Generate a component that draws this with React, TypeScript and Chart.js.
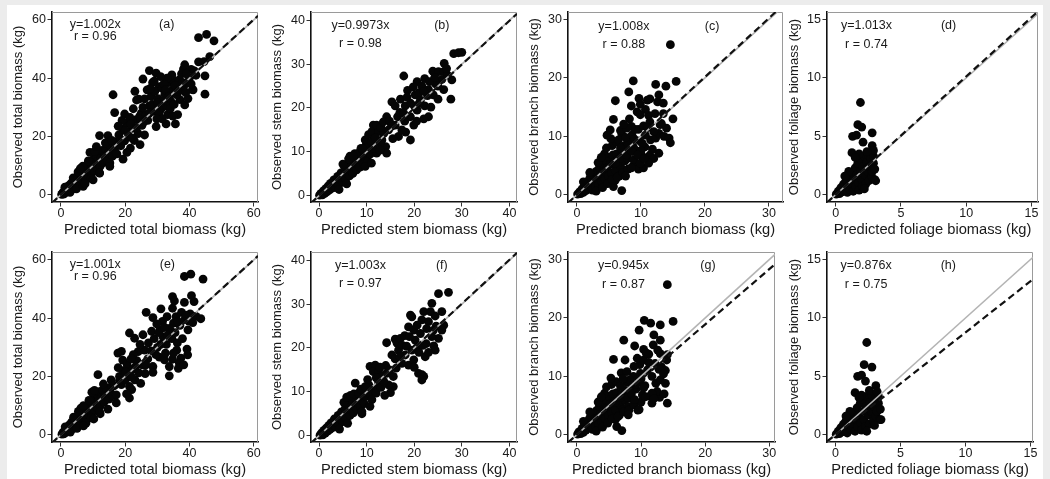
import React, { useEffect, useRef } from "react";
import { Chart, registerables } from "chart.js";

Chart.register(...registerables);

const FONT = "'Liberation Sans', Arial, Helvetica, sans-serif";
const INK = "#1a1a1a";

// ---------- tick labels ----------
const totalTicks = [0, 20, 40, 60];
const stemTicks = [0, 10, 20, 30, 40];
const branchTicks = [0, 10, 20, 30];
const foliageTicks = [0, 5, 10, 15];

// ---------- annotations ----------
const panelTags = ["(a)", "(b)", "(c)", "(d)", "(e)", "(f)", "(g)", "(h)"];
const slopes = [1.002, 0.9973, 1.008, 1.013, 1.001, 1.003, 0.945, 0.876];
const slopeLabels = ["1.002", "0.9973", "1.008", "1.013", "1.001", "1.003", "0.945", "0.876"];
const rValues = ["0.96", "0.98", "0.88", "0.74", "0.96", "0.97", "0.87", "0.75"];
const xTitles = [
  "Predicted total biomass (kg)",
  "Predicted stem biomass (kg)",
  "Predicted branch biomass (kg)",
  "Predicted foliage biomass (kg)",
];
const yTitles = [
  "Observed total biomass (kg)",
  "Observed stem biomass (kg)",
  "Observed branch biomass (kg)",
  "Observed foliage biomass (kg)",
];

// ---------- data: [predicted, observed] ----------
const totalA: [number, number][] = [
  [0.2,0.1],[0.5,0.6],[0.8,0.2],[1.0,1.2],[1.3,0.6],[1.5,1.8],[1.8,1.0],[2.0,2.5],[2.2,1.4],[2.5,3.2],[2.7,2.0],[3.0,2.6],[3.2,4.0],[3.4,1.8],[3.7,3.3],[4.0,4.8],[4.2,2.6],[4.5,4.0],[4.8,5.8],[5.0,3.3],[5.3,4.8],[5.6,6.8],[5.9,4.0],[6.2,5.6],[6.5,7.6],[6.8,4.8],[7.1,6.6],[7.4,8.8],[7.7,5.6],[8.0,7.6],[8.3,9.8],[8.6,6.4],[8.9,8.6],[9.2,11.0],[9.5,7.2],[9.8,9.6],[10.1,12.2],[10.4,8.2],[10.7,10.6],[11.0,13.4],[11.3,9.0],[11.6,11.6],[11.9,14.6],[12.2,9.8],[12.5,12.6],[12.8,15.2],[13.2,11.0],[13.6,13.6],[14.0,15.6],[14.4,11.8],[14.8,14.2],[15.2,10.9],[15.5,16.6],[16.0,13.2],[16.5,15.4],[17.0,18.2],[17.4,14.0],
  [3.8,5.8],[5.3,7.8],[6.8,9.8],[8.5,11.6],[2.8,0.8],[4.8,2.0],[6.9,2.9],[9.3,5.6],[10.0,5.1],[12.0,7.4],[1.2,2.6],[15.2,9.7],
  [12.0,20.3],[14.6,20.3],[9.0,14.5],[10.5,14.8],[6.0,9.0],[7.5,3.8],[12.0,7.5],[13.8,17.8],[11.0,16.5],[15.8,18.6],[17.0,16.5],
  [16.2,34.3],[16.7,28.2],[19.8,27.7],[19.3,12.2],[18.0,20.5],[18.6,16.8],[19.2,22.5],[19.8,18.5],[20.4,24.5],[21.0,20.2],[21.6,16.0],[22.2,22.8],[22.8,18.6],[23.4,25.8],[24.0,21.0],[24.6,17.2],[25.2,23.8],[20.5,14.5],[21.5,26.5],[22.5,29.5],[23.5,32.5],[24.2,32.8],[25.0,28.0],[19.0,25.5],[17.8,23.5],[26.0,20.5],[24.5,27.0],[23.0,35.5],[24.8,26.0],[21.8,24.2],[20.0,22.0],[18.5,19.0],[23.5,23.0],[22.0,19.5],
  [25.5,39.7],[27.5,42.6],[29.6,41.7],[26.0,32.9],[28.0,33.7],[28.9,28.6],[31.1,29.4],[29.6,23.4],[32.7,24.3],[35.6,24.3],[30.6,37.1],[34.7,36.0],[33.5,38.5],[35.0,39.1],[36.8,39.4],[34.5,41.1],[38.1,43.1],[38.5,44.6],[40.9,36.1],[37.0,32.6],[36.0,34.3],[34.2,32.0],[32.9,30.3],[42.8,53.9],[45.3,55.0],[47.6,52.8],[42.8,45.6],[44.5,45.7],[46.3,47.4],[42.0,41.0],[44.8,40.8],[44.8,34.5],[41.1,36.0],[38.1,36.9],[26.5,27.5],[27.5,30.5],[27.0,25.5],[28.5,31.0],[29.2,35.5],[30.2,33.0],[31.5,36.5],[32.3,34.5],[33.2,27.5],[34.0,29.5],[35.2,31.0],[36.2,37.0],[37.5,36.0],[38.5,30.8],[39.2,38.5],[40.0,40.2],[26.8,36.0],[30.5,28.0],[31.8,32.2],[25.5,30.0],[25.8,25.0],[33.0,40.0],[36.3,27.5],[39.5,33.0],[32.0,38.0],[28.5,38.5],[37.5,41.5],[40.5,43.0],
  [27.8,36.5],[29.0,39.0],[30.0,31.5],[31.0,40.5],[32.5,36.0],[33.8,34.0],[35.5,37.5],[36.5,35.5],[37.8,38.5],[39.0,41.5],[40.5,38.0],[41.5,42.5],[34.8,27.0],[31.5,26.0],[29.8,26.0],[27.5,28.0],[38.8,35.0],[33.5,33.5],
];

const stemB: [number, number][] = [
  [0.1,0.1],[0.4,0.5],[0.7,0.2],[0.9,1.1],[1.2,0.5],[1.4,1.6],[1.7,0.9],[1.9,2.2],[2.2,1.3],[2.4,2.8],[2.7,1.7],[2.9,2.4],[3.1,3.6],[3.4,1.9],[3.6,3.0],[3.9,4.4],[4.1,2.5],[4.4,3.7],[4.6,5.2],[4.9,3.1],[5.1,4.4],[5.4,6.0],[5.6,3.8],[5.9,5.1],[6.1,6.8],[6.4,4.5],[6.6,5.8],[6.9,7.6],[7.1,5.1],[7.4,6.5],[7.6,8.4],[7.9,5.9],[8.1,7.3],[8.3,9.3],[8.6,6.5],[8.9,8.1],[9.1,9.8],[9.4,7.2],[9.7,8.8],[10.0,10.3],[10.3,7.9],[5.0,7.2],[6.5,9.0],[6.2,8.4],[7.5,9.6],[8.3,9.7],[9.7,6.7],[4.2,1.4],[5.8,2.7],[10.8,9.5],[9.9,11.6],[8.8,10.8],[7.2,9.0],[11.0,7.4],
  [9.7,12.7],[10.4,13.9],[10.4,11.2],[11.1,14.6],[11.4,16.1],[12.1,16.1],[12.5,14.6],[13.2,12.7],[14.0,11.2],[14.2,9.7],[12.1,9.7],[11.5,10.8],[12.8,12.0],[13.6,14.2],[14.2,18.0],[14.6,15.0],[15.3,21.4],[16.0,20.5],[16.0,16.1],[16.7,13.5],[15.5,13.0],[11.0,12.2],[9.2,10.6],[13.0,15.5],[11.8,13.2],[13.5,16.8],[14.8,17.0],[15.2,15.8],[16.5,18.0],[12.8,10.4],[18.2,14.5],
  [17.1,22.0],[17.8,27.3],[18.1,20.5],[19.2,21.1],[20.2,23.0],[21.3,21.8],[22.2,20.5],[23.0,18.0],[20.6,19.5],[19.2,18.0],[19.9,16.1],[19.2,12.7],[17.4,15.0],[18.0,17.0],[20.6,26.0],[22.2,26.7],[21.6,25.0],[23.0,24.2],[23.9,28.4],[25.1,28.3],[26.3,30.2],[26.2,28.3],[25.8,26.5],[26.2,24.2],[27.9,26.4],[27.7,22.0],[28.3,32.4],[29.3,32.6],[30.0,32.7],[24.0,23.0],[24.5,25.5],[22.8,22.8],[21.0,23.5],[18.6,24.0],[17.0,19.0],[23.5,20.2],[25.0,22.0],[27.0,27.5],[20.0,20.5],[22.0,17.5],[17.8,18.8],[18.5,22.5],[19.8,24.8],[21.0,21.0],[22.0,23.8],[23.2,26.0],[24.3,27.0],[25.0,25.0],[26.8,29.0],[20.5,17.0],
];

const branchC: [number, number][] = [
  [0.1,0.1],[0.4,0.5],[0.6,0.2],[0.8,1.0],[1.0,0.4],[1.2,1.6],[1.4,0.7],[1.6,2.2],[1.8,1.1],[2.0,2.8],[2.2,1.5],[2.4,0.8],[2.5,3.4],[2.7,2.2],[2.9,1.3],[3.0,4.0],[3.2,2.8],[3.4,1.7],[3.5,4.6],[3.7,3.4],[3.9,2.2],[4.0,5.3],[4.2,4.0],[4.4,2.7],[4.5,5.9],[4.7,4.6],[4.9,3.2],[5.0,6.4],[5.2,5.2],[5.4,3.7],[5.6,6.8],[5.8,5.6],[6.0,4.2],[6.2,7.0],[6.4,6.0],[6.6,3.2],[6.8,5.0],[7.0,6.8],[7.2,4.2],[7.5,5.8],[1.0,2.2],[2.0,3.8],[5.7,1.4],[7.0,0.7],[6.0,2.5],[3.3,5.5],[4.3,7.0],
  [3.0,0.6],[4.0,1.2],[4.8,1.9],[5.5,2.6],[6.3,3.0],[7.2,3.8],[8.0,4.4],[8.8,5.0],[9.6,4.4],[10.2,6.6],[9.2,7.6],[8.4,8.6],[7.6,7.4],[6.8,6.2],[6.0,5.4],[7.9,6.2],[8.8,8.2],[9.8,9.2],[10.6,8.2],[11.4,6.8],[5.5,8.4],[6.2,9.0],[7.0,10.4],[7.9,9.2],[8.6,10.2],[9.6,11.2],[10.4,11.8],[11.2,13.6],[10.7,14.6],[8.2,13.0],[6.8,11.0],[13.0,12.0],[14.0,11.4],[11.0,16.2],[10.4,4.6],[12.0,6.2],[8.5,4.6],[7.6,3.2],[4.6,8.0],[3.8,6.4],[5.3,9.6],
  [4.7,10.2],[5.2,11.1],[5.7,12.9],[6.0,16.1],[6.5,9.4],[7.3,8.3],[7.8,6.8],[8.9,6.0],[9.9,5.4],[11.2,5.4],[12.8,7.1],[10.2,8.8],[11.5,9.4],[12.3,9.7],[10.7,10.2],[12.8,10.5],[13.6,10.0],[12.0,10.8],[14.4,9.7],[14.6,8.9],[11.4,12.5],[9.1,11.2],[8.5,11.7],[7.8,11.4],[7.3,12.1],[9.4,14.2],[9.9,13.7],[12.2,13.9],[13.5,13.9],[15.0,13.0],[8.1,17.6],[8.5,15.2],[9.7,16.5],[9.9,15.5],[11.4,16.4],[12.6,15.9],[12.8,17.1],[13.5,15.7],[8.8,19.5],[12.3,18.9],[13.9,18.6],[15.5,19.4],[14.6,25.7],[8.0,8.5],[9.0,9.5],[10.0,7.5],[11.0,11.5],[8.6,7.4],[9.5,6.8],[10.5,6.2],[7.6,9.8],[6.8,8.0],[11.8,7.8],[13.2,12.2],
];

const foliageD: [number, number][] = [
  [0.05,0.05],[0.2,0.3],[0.3,0.1],[0.4,0.6],[0.5,0.25],[0.6,0.9],[0.7,0.4],[0.8,1.2],[0.9,0.2],[0.9,0.7],[1.0,1.5],[1.1,0.45],[1.2,1.0],[1.3,1.9],[1.35,0.3],[1.4,1.3],[1.5,2.3],[1.55,0.7],[1.6,1.7],[1.7,2.7],[1.75,1.0],[1.8,0.4],[1.9,2.0],[1.95,3.0],[2.0,1.3],[2.05,0.7],[2.1,2.4],[2.2,3.3],[2.25,1.7],[2.3,0.9],[2.4,2.8],[2.45,2.0],[2.5,3.4],[2.55,1.2],[2.6,2.4],[2.7,3.1],[2.75,1.6],[2.8,2.0],[2.9,2.7],[3.0,1.3],[3.07,1.2],[2.2,0.5],[1.0,2.0],[0.7,1.6],[2.9,3.3],[3.0,2.2],
  [1.9,7.9],[1.7,6.0],[2.0,5.8],[1.3,5.0],[1.6,5.1],[2.8,5.3],[1.25,3.6],[2.1,4.5],[2.8,4.2],[2.9,3.8],[2.4,3.7],[1.8,3.5],[1.5,3.2],
];

const totalE: [number, number][] = [
  [0.3,0.2],[0.6,0.7],[0.9,0.3],[1.1,1.4],[1.4,0.7],[1.6,2.0],[1.9,1.1],[2.1,2.8],[2.4,1.6],[2.6,3.4],[2.9,2.2],[3.1,2.8],[3.3,4.3],[3.6,2.0],[3.9,3.5],[4.1,5.1],[4.4,2.8],[4.7,4.2],[5.0,6.1],[5.2,3.5],[5.5,5.0],[5.8,7.2],[6.1,4.2],[6.4,5.9],[6.7,8.0],[7.0,5.0],[7.3,6.9],[7.6,9.2],[7.9,5.8],[8.2,7.9],[8.5,10.3],[8.8,6.6],[9.1,8.9],[9.4,11.4],[9.5,6.9],[9.8,9.7],[10.2,12.6],[10.5,8.4],[10.9,10.8],[11.0,14.0],[11.4,9.2],[11.8,11.8],[12.0,14.8],[12.3,10.0],[12.7,12.8],[13.0,15.4],[13.4,11.2],[13.8,13.8],[14.2,16.0],[14.6,8.8],[14.9,12.2],[15.3,14.6],[15.8,16.8],[16.2,13.4],[17.2,13.7],[17.2,10.9],[11.5,20.6],[9.6,14.6],[6.2,9.1],[7.8,4.0],[12.2,7.2],[10.4,15.2],
  [3.9,6.0],[5.4,8.0],[7.0,10.0],[8.7,11.8],[2.9,0.9],[5.0,2.2],[7.0,3.0],[9.4,5.8],[10.2,5.4],[12.0,7.8],[1.3,2.7],[13.2,17.4],[15.6,18.8],
  [17.7,28.0],[18.8,28.6],[21.3,12.6],[21.3,16.6],[18.2,20.0],[18.8,17.2],[19.4,22.0],[20.0,18.8],[20.6,24.0],[21.2,20.5],[22.0,15.5],[22.4,22.5],[23.0,18.8],[23.6,25.4],[24.2,21.2],[24.8,17.6],[25.3,24.0],[20.4,14.0],[21.3,34.9],[22.9,33.1],[25.5,34.3],[24.0,28.5],[26.0,29.0],[19.2,25.6],[17.8,23.0],[26.2,21.0],[22.5,27.5],[24.6,31.0],[21.8,26.0],[20.2,21.5],[18.2,18.6],[23.2,23.4],[22.0,19.8],[16.6,16.8],
  [26.5,42.0],[28.6,40.2],[31.1,43.2],[31.6,38.9],[34.7,43.4],[35.0,38.3],[28.6,23.4],[28.6,21.4],[30.6,26.6],[32.2,25.7],[33.7,23.4],[34.7,25.9],[37.3,26.3],[36.8,24.6],[39.2,29.4],[39.4,27.4],[33.7,20.2],[38.4,54.3],[40.4,55.1],[44.2,53.4],[34.7,47.4],[35.3,45.9],[38.4,45.4],[41.4,45.7],[40.6,47.7],[42.0,40.6],[43.5,39.8],[27.2,31.5],[28.2,35.5],[29.0,33.0],[30.0,30.0],[30.8,36.0],[31.8,33.5],[32.8,31.0],[33.8,36.5],[34.5,33.0],[35.5,35.0],[36.2,31.5],[37.0,37.5],[37.8,33.0],[38.5,39.5],[39.5,36.0],[40.2,41.5],[36.0,29.0],[32.5,28.0],[29.5,27.5],[35.8,40.5],[33.0,40.5],[37.5,42.0],[30.5,35.0],[27.0,26.0],[41.0,38.5],[36.5,22.8],[38.2,24.0],
  [29.8,38.0],[32.2,36.8],[33.2,34.2],[36.4,38.8],[38.8,41.0],[39.8,39.0],[35.0,28.0],[31.0,31.0],[28.0,28.8],[26.4,24.0],
];

const stemF: [number, number][] = [
  [0.2,0.1],[0.5,0.6],[0.8,0.2],[1.0,1.2],[1.3,0.6],[1.5,1.7],[1.8,1.0],[2.0,2.3],[2.3,1.4],[2.5,2.9],[2.8,1.8],[3.0,2.5],[3.2,3.8],[3.5,2.0],[3.7,3.1],[4.0,4.6],[4.2,2.6],[4.5,3.8],[4.7,5.4],[5.0,3.2],[5.2,4.5],[5.5,6.2],[5.7,3.9],[6.0,5.2],[6.2,7.0],[6.5,4.6],[6.7,5.9],[7.0,7.8],[7.2,5.2],[7.5,6.6],[7.7,8.6],[8.0,6.0],[8.2,7.4],[8.4,9.5],[8.7,6.6],[9.0,8.2],[9.2,10.0],[9.5,7.3],[9.8,9.0],[10.1,10.5],[5.2,7.6],[5.8,8.8],[6.6,9.2],[7.3,9.5],[9.0,5.0],[4.3,1.5],[6.0,2.8],[8.3,9.7],[7.6,12.0],[10.5,11.5],[8.8,10.6],
  [9.7,11.2],[10.7,15.8],[11.8,16.1],[11.4,14.6],[12.5,14.6],[13.2,13.5],[14.2,14.2],[15.6,13.5],[15.6,11.2],[14.6,11.6],[12.5,12.0],[11.5,10.6],[10.7,9.7],[12.0,9.7],[11.1,8.2],[10.7,6.7],[9.0,5.5],[13.0,11.0],[14.0,16.0],[12.8,15.6],[10.2,12.8],[15.0,9.8],[12.0,13.2],[13.6,12.4],[14.8,15.0],[16.2,15.4],[13.8,9.2],
  [14.2,21.2],[16.0,22.0],[16.4,21.1],[17.1,22.2],[15.3,18.4],[16.7,19.5],[18.1,18.4],[19.5,19.5],[18.8,16.1],[17.4,16.5],[19.9,17.3],[20.9,14.2],[21.6,13.9],[22.0,13.5],[21.6,12.7],[19.2,27.5],[19.5,27.1],[18.8,24.8],[19.9,24.1],[20.2,21.8],[21.3,23.3],[21.6,26.4],[23.0,26.0],[22.0,28.3],[23.4,28.3],[24.4,27.3],[23.7,30.2],[25.8,28.3],[26.2,25.2],[25.8,24.1],[25.1,22.2],[23.7,22.6],[24.1,20.5],[24.4,19.5],[22.3,18.0],[25.1,32.4],[27.2,32.7],[17.5,20.6],[20.5,20.0],[22.5,21.0],[21.0,19.0],[18.0,22.8],[24.6,25.0],[16.0,17.5],[17.0,18.0],[18.4,20.4],[19.0,22.6],[20.6,25.2],[22.6,24.4],[24.0,24.0],[21.8,20.6],[23.0,19.0],[20.0,15.6],
];

const branchG: [number, number][] = [
  [0.1,0.1],[0.3,0.5],[0.6,0.2],[0.8,1.1],[1.0,0.4],[1.2,1.7],[1.4,0.8],[1.6,2.3],[1.8,1.2],[2.0,2.9],[2.2,1.6],[2.4,0.9],[2.5,3.5],[2.7,2.3],[2.9,1.4],[3.0,4.1],[3.2,2.9],[3.4,1.8],[3.5,4.8],[3.7,3.5],[3.9,2.3],[4.0,5.4],[4.2,4.1],[4.4,2.8],[4.5,6.0],[4.7,4.7],[4.9,3.3],[5.0,6.6],[5.2,5.3],[5.4,3.8],[5.6,7.0],[5.8,5.7],[6.0,4.3],[6.2,7.2],[6.4,6.1],[6.6,3.3],[6.8,5.1],[7.0,6.9],[7.2,4.3],[7.5,5.9],[1.0,2.3],[2.0,3.9],[6.2,1.4],[7.0,0.7],[6.0,2.6],[3.3,5.6],[4.3,7.1],[8.0,4.8],[8.4,6.2],
  [3.0,0.6],[4.0,1.3],[4.8,2.0],[5.5,2.7],[6.4,3.1],[7.3,3.9],[8.1,4.2],[8.9,5.1],[9.5,4.2],[10.2,6.8],[9.2,7.8],[8.4,8.8],[7.6,7.6],[6.8,6.4],[6.0,5.6],[7.9,6.4],[8.8,8.0],[9.8,9.0],[10.6,8.4],[11.4,6.6],[5.4,8.6],[6.1,9.1],[6.9,10.6],[7.8,9.0],[8.8,10.0],[9.8,12.0],[10.4,14.6],[11.2,13.8],[12.2,12.2],[13.2,11.6],[12.9,6.4],[13.8,11.0],[9.0,15.2],[7.5,12.8],[10.0,5.6],[8.0,3.4],[4.6,8.2],[3.8,6.5],[5.3,9.7],
  [5.7,12.9],[7.3,16.2],[6.8,8.3],[7.8,10.8],[8.9,11.7],[9.4,13.1],[10.4,12.8],[9.9,10.5],[11.0,11.1],[11.7,10.0],[12.3,8.8],[13.0,9.4],[13.8,8.8],[12.5,7.4],[11.7,7.1],[10.4,8.0],[10.7,6.5],[14.1,5.4],[11.7,5.4],[9.7,4.3],[13.0,13.9],[14.1,13.7],[14.0,12.8],[11.9,15.4],[13.0,16.2],[12.0,17.1],[9.7,17.9],[10.5,19.6],[11.5,19.1],[13.0,18.8],[15.0,19.4],[14.1,25.7],[8.5,7.0],[9.2,8.6],[10.0,9.6],[8.2,9.4],[12.8,11.2],[13.5,10.4],[11.2,12.4],[12.6,14.5],[7.2,9.6],[9.0,6.0],[12.0,6.2],[13.6,7.0],[10.8,14.0],
];

const foliageH: [number, number][] = [
  [0.05,0.05],[0.2,0.3],[0.3,0.1],[0.4,0.6],[0.5,0.25],[0.6,0.9],[0.7,0.4],[0.8,1.2],[0.9,0.15],[1.0,0.7],[1.1,1.5],[1.2,0.45],[1.3,1.0],[1.4,1.9],[1.5,0.3],[1.55,1.3],[1.65,2.3],[1.7,0.7],[1.8,1.7],[1.9,2.7],[1.95,1.0],[2.0,0.4],[2.1,2.0],[2.15,3.0],[2.2,1.3],[2.3,0.7],[2.35,2.4],[2.45,3.3],[2.5,1.7],[2.6,0.9],[2.65,2.8],[2.75,2.0],[2.8,3.4],[2.9,1.2],[2.95,2.4],[3.05,3.1],[3.1,1.6],[3.2,2.0],[3.3,2.7],[3.4,1.3],[3.5,1.3],[3.0,0.8],[1.1,2.0],[0.8,1.6],[3.3,3.3],[3.45,2.2],[2.4,0.3],
  [2.4,7.9],[2.2,6.0],[2.8,5.8],[1.7,5.0],[2.0,5.1],[2.3,4.6],[3.1,4.2],[1.5,3.6],[2.6,3.8],[2.0,3.4],[1.8,3.2],[3.2,3.7],
];

const panelData = [totalA, stemB, branchC, foliageD, totalE, stemF, branchG, foliageH];
const panelTicks = [totalTicks, stemTicks, branchTicks, foliageTicks];

// ---------- layout (pixels / axis limits) ----------
type Layout = {
  left: number; top: number; plotLeft: number; plotRight: number; yPad: number;
  xr: [number, number]; yr: [number, number];
  eqFx: number; tagFx: number; l1: number; l2: number;
};
const layouts: Layout[] = [
  { left: 10, top: 0, plotLeft: 52, plotRight: 258, yPad: 0.5, xr: [-2.8, 61.3], yr: [-2.5, 62.7], eqFx: 0.21, tagFx: 0.557, l1: 12.3, l2: 25 },
  { left: 268, top: 0, plotLeft: 311, plotRight: 517, yPad: 1.2, xr: [-1.7, 41.6], yr: [-1.45, 41.9], eqFx: 0.24, tagFx: 0.635, l1: 13.3, l2: 31.6 },
  { left: 525, top: 0, plotLeft: 568, plotRight: 783, yPad: 1.2, xr: [-1.4, 32.2], yr: [-1.25, 31.3], eqFx: 0.26, tagFx: 0.67, l1: 14.5, l2: 32.5 },
  { left: 786, top: 0, plotLeft: 827, plotRight: 1038, yPad: 0.5, xr: [-0.66, 15.5], yr: [-0.62, 15.65], eqFx: 0.187, tagFx: 0.576, l1: 13.3, l2: 32.3 },
  { left: 10, top: 240, plotLeft: 52, plotRight: 258, yPad: 0.5, xr: [-2.8, 61.3], yr: [-2.5, 62.7], eqFx: 0.21, tagFx: 0.56, l1: 12.3, l2: 25 },
  { left: 268, top: 240, plotLeft: 311, plotRight: 517, yPad: 1.2, xr: [-1.7, 41.6], yr: [-1.45, 41.9], eqFx: 0.24, tagFx: 0.635, l1: 13.3, l2: 31.6 },
  { left: 525, top: 240, plotLeft: 568, plotRight: 775, yPad: 1.2, xr: [-1.4, 30.9], yr: [-1.25, 31.3], eqFx: 0.268, tagFx: 0.676, l1: 13.3, l2: 32.3 },
  { left: 786, top: 240, plotLeft: 827, plotRight: 1033, yPad: 0.5, xr: [-0.66, 15.2], yr: [-0.62, 15.65], eqFx: 0.19, tagFx: 0.589, l1: 13.3, l2: 32.3 },
];

const CANVAS_H = 239;
const PAD_TOP = 12;
const X_AXIS_H = 37;
const PAD_RIGHT = 10;

function Panel({ idx }: { idx: number }) {
  const ref = useRef<HTMLCanvasElement>(null);
  const L = layouts[idx];
  const kind = idx % 4;
  const width = L.plotRight + PAD_RIGHT - L.left;

  useEffect(() => {
    const canvas = ref.current;
    if (!canvas) return;
    const ticks = panelTicks[kind];
    const slope = slopes[idx];
    const [x0, x1] = L.xr;

    const decor = {
      id: "decor" + idx,
      beforeDatasetsDraw(chart: any) {
        const { ctx, chartArea: ca } = chart;
        ctx.save();
        ctx.strokeStyle = "#9a9a9a";
        ctx.lineWidth = 1;
        ctx.beginPath();
        ctx.moveTo(ca.left, ca.top + 0.5);
        ctx.lineTo(ca.right - 0.5, ca.top + 0.5);
        ctx.lineTo(ca.right - 0.5, ca.bottom);
        ctx.stroke();
        ctx.restore();
      },
      afterDraw(chart: any) {
        const { ctx, chartArea: ca } = chart;
        const w = ca.right - ca.left;
        ctx.save();
        ctx.font = `12.5px ${FONT}`;
        ctx.fillStyle = INK;
        ctx.textAlign = "center";
        ctx.textBaseline = "middle";
        ctx.fillText(`y=${slopeLabels[idx]}x`, ca.left + w * L.eqFx, ca.top + L.l1);
        ctx.fillText(`r = ${rValues[idx]}`, ca.left + w * L.eqFx, ca.top + L.l2);
        ctx.fillText(panelTags[idx], ca.left + w * L.tagFx, ca.top + L.l1);
        ctx.restore();
      },
    };

    const axisCommon = (isX: boolean) => ({
      type: "linear" as const,
      min: isX ? L.xr[0] : L.yr[0],
      max: isX ? L.xr[1] : L.yr[1],
      afterBuildTicks: (s: any) => {
        s.ticks = ticks.map((v) => ({ value: v }));
      },
      afterFit: (s: any) => {
        if (isX) s.height = X_AXIS_H;
        else s.width = L.plotLeft - L.left;
      },
      grid: {
        drawOnChartArea: false,
        drawTicks: true,
        tickLength: 4.5,
        color: "#333",
        lineWidth: 1,
      },
      border: { display: true, color: "#111", width: 1.6 },
      ticks: {
        font: { family: FONT, size: 12.5, lineHeight: 1 },
        color: INK,
        padding: isX ? 1 : 1.5,
        maxRotation: 0,
        autoSkip: false,
      },
      title: {
        display: true,
        text: isX ? xTitles[kind] : yTitles[kind],
        font: { family: FONT, size: isX ? 14.7 : 13, lineHeight: 1.2 },
        color: INK,
        padding: isX ? { top: 0, bottom: 0 } : { top: L.yPad, bottom: 0 },
      },
    });

    const chart = new Chart(canvas, {
      type: "scatter",
      data: {
        datasets: [
          {
            label: "fit",
            data: [
              { x: x0, y: slope * x0 },
              { x: x1, y: slope * x1 },
            ],
            showLine: true,
            borderColor: "#111",
            borderWidth: 2.2,
            borderDash: [7, 4],
            pointRadius: 0,
            clip: 0,
            order: 0,
          },
          {
            label: "1:1",
            data: [
              { x: x0, y: x0 },
              { x: x1, y: x1 },
            ],
            showLine: true,
            borderColor: "#b4b4b4",
            borderWidth: 1.6,
            pointRadius: 0,
            clip: 0,
            order: 1,
          },
          {
            label: "trees",
            data: panelData[idx].map(([x, y]) => ({ x, y })),
            backgroundColor: "#050505",
            borderWidth: 0,
            pointRadius: 4.4,
            pointHoverRadius: 4.4,
            order: 2,
          },
        ],
      },
      options: {
        responsive: false,
        animation: false,
        events: [],
        layout: { padding: { top: PAD_TOP, right: PAD_RIGHT, left: 0, bottom: 0 } },
        plugins: { legend: { display: false }, tooltip: { enabled: false } },
        scales: { x: axisCommon(true), y: axisCommon(false) } as any,
      },
      plugins: [decor],
    } as any);
    return () => chart.destroy();
  }, []);

  return (
    <canvas
      ref={ref}
      width={width}
      height={CANVAS_H}
      style={{ position: "absolute", left: L.left, top: L.top, width, height: CANVAS_H }}
    />
  );
}

export default function App() {
  return (
    <div
      style={{
        position: "absolute",
        left: 0,
        top: 0,
        width: 1050,
        height: 479,
        background: "#ececec",
        overflow: "hidden",
      }}
    >
      <div style={{ position: "absolute", left: 7, top: 5, width: 1036, height: 474, background: "#ffffff" }} />
      {layouts.map((_, i) => (
        <Panel key={i} idx={i} />
      ))}
    </div>
  );
}
